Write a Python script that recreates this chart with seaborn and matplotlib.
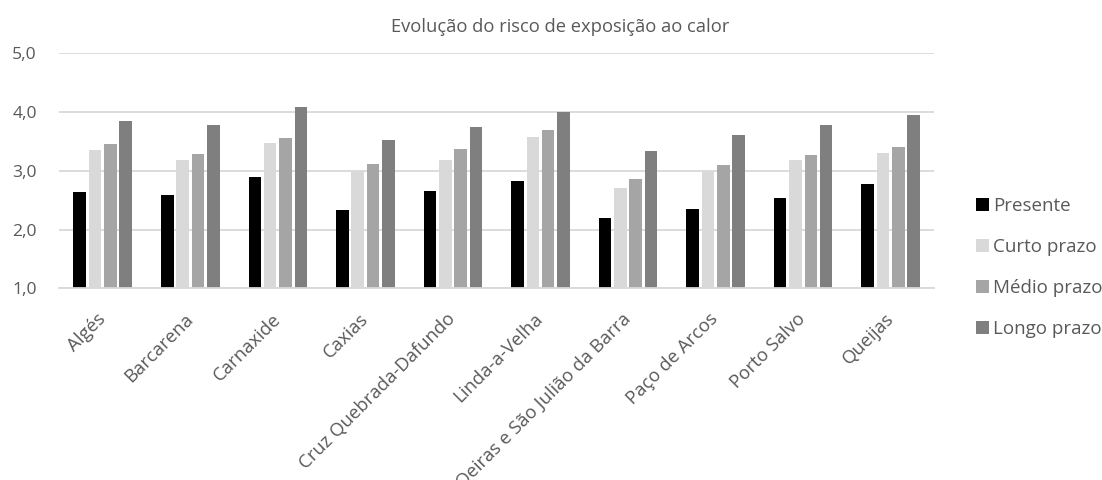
import matplotlib
matplotlib.use("Agg")
import matplotlib.pyplot as plt
import seaborn as sns
import pandas as pd
from matplotlib.patches import Patch

# Freguesias and heat-exposure risk per time horizon
freguesias = ["Algés", "Barcarena", "Carnaxide", "Caxias", "Cruz Quebrada-Dafundo",
              "Linda-a-Velha", "Oeiras e São Julião da Barra", "Paço de Arcos",
              "Porto Salvo", "Queijas"]
horizontes = ["Presente", "Curto prazo", "Médio prazo", "Longo prazo"]
presente = [2.64, 2.58, 2.89, 2.34, 2.65, 2.82, 2.19, 2.35, 2.53, 2.78]
curto_prazo = [3.36, 3.19, 3.47, 3.00, 3.19, 3.57, 2.71, 2.99, 3.18, 3.30]
medio_prazo = [3.46, 3.29, 3.56, 3.12, 3.37, 3.69, 2.86, 3.10, 3.26, 3.40]
longo_prazo = [3.85, 3.77, 4.09, 3.52, 3.75, 3.99, 3.34, 3.61, 3.78, 3.94]
y_ticks = [1.0, 2.0, 3.0, 4.0, 5.0]

cores = ["#000000", "#D9D9D9", "#A5A5A5", "#7F7F7F"]
texto = "#595959"
grelha = "#D9D9D9"

series = [presente, curto_prazo, medio_prazo, longo_prazo]
df = pd.DataFrame({
    "freguesia": [f for _ in horizontes for f in freguesias],
    "horizonte": [h for h in horizontes for _ in freguesias],
    "risco": [v for s in series for v in s],
})

sns.set_theme(style="white")
plt.rcParams["font.family"] = ["Open Sans", "DejaVu Sans"]

fig = plt.figure(figsize=(11.02, 4.8), dpi=100)
ax = fig.add_axes([0.0535, 0.399, 0.7945, 0.4905])

sns.barplot(data=df, x="freguesia", y="risco", hue="horizonte",
            order=freguesias, hue_order=horizontes, palette=cores,
            width=0.7, gap=0.18, errorbar=None, saturation=1,
            linewidth=0, ax=ax, legend=False)

ax.set_ylim(1.0, 5.0)
ax.set_xlim(-0.5, len(freguesias) - 0.5)
ax.set_yticks(y_ticks)
ax.set_yticklabels([f"{t:.1f}".replace(".", ",") for t in y_ticks],
                   fontsize=12.6, color=texto)
ax.yaxis.grid(True, color=grelha, linewidth=1.3)
ax.set_axisbelow(True)
for s in ["top", "right", "left"]:
    ax.spines[s].set_visible(False)
ax.spines["bottom"].set_color(grelha)
ax.spines["bottom"].set_linewidth(1.3)
ax.tick_params(axis="y", length=0, pad=16)
ax.tick_params(axis="x", length=0, pad=20)
ax.set_xlabel("")
ax.set_ylabel("")
ax.set_xticks(range(len(freguesias)))
ax.set_xticklabels(freguesias, rotation=45, ha="right", va="center",
                   rotation_mode="anchor", fontsize=13.3, color=texto)

fig.text(0.508, 0.943, "Evolução do risco de exposição ao calor",
         ha="center", va="center", fontsize=13.2, color=texto)

handles = [Patch(facecolor=c, edgecolor="none") for c in cores]
fig.legend(handles, horizontes, loc="center left",
           bbox_to_anchor=(0.886, 0.443), frameon=False, fontsize=13.5,
           labelcolor=texto, handlelength=0.69, handleheight=0.69,
           handletextpad=0.21, labelspacing=1.22, borderpad=0,
           borderaxespad=0)

fig.savefig("out.png", dpi=100)
